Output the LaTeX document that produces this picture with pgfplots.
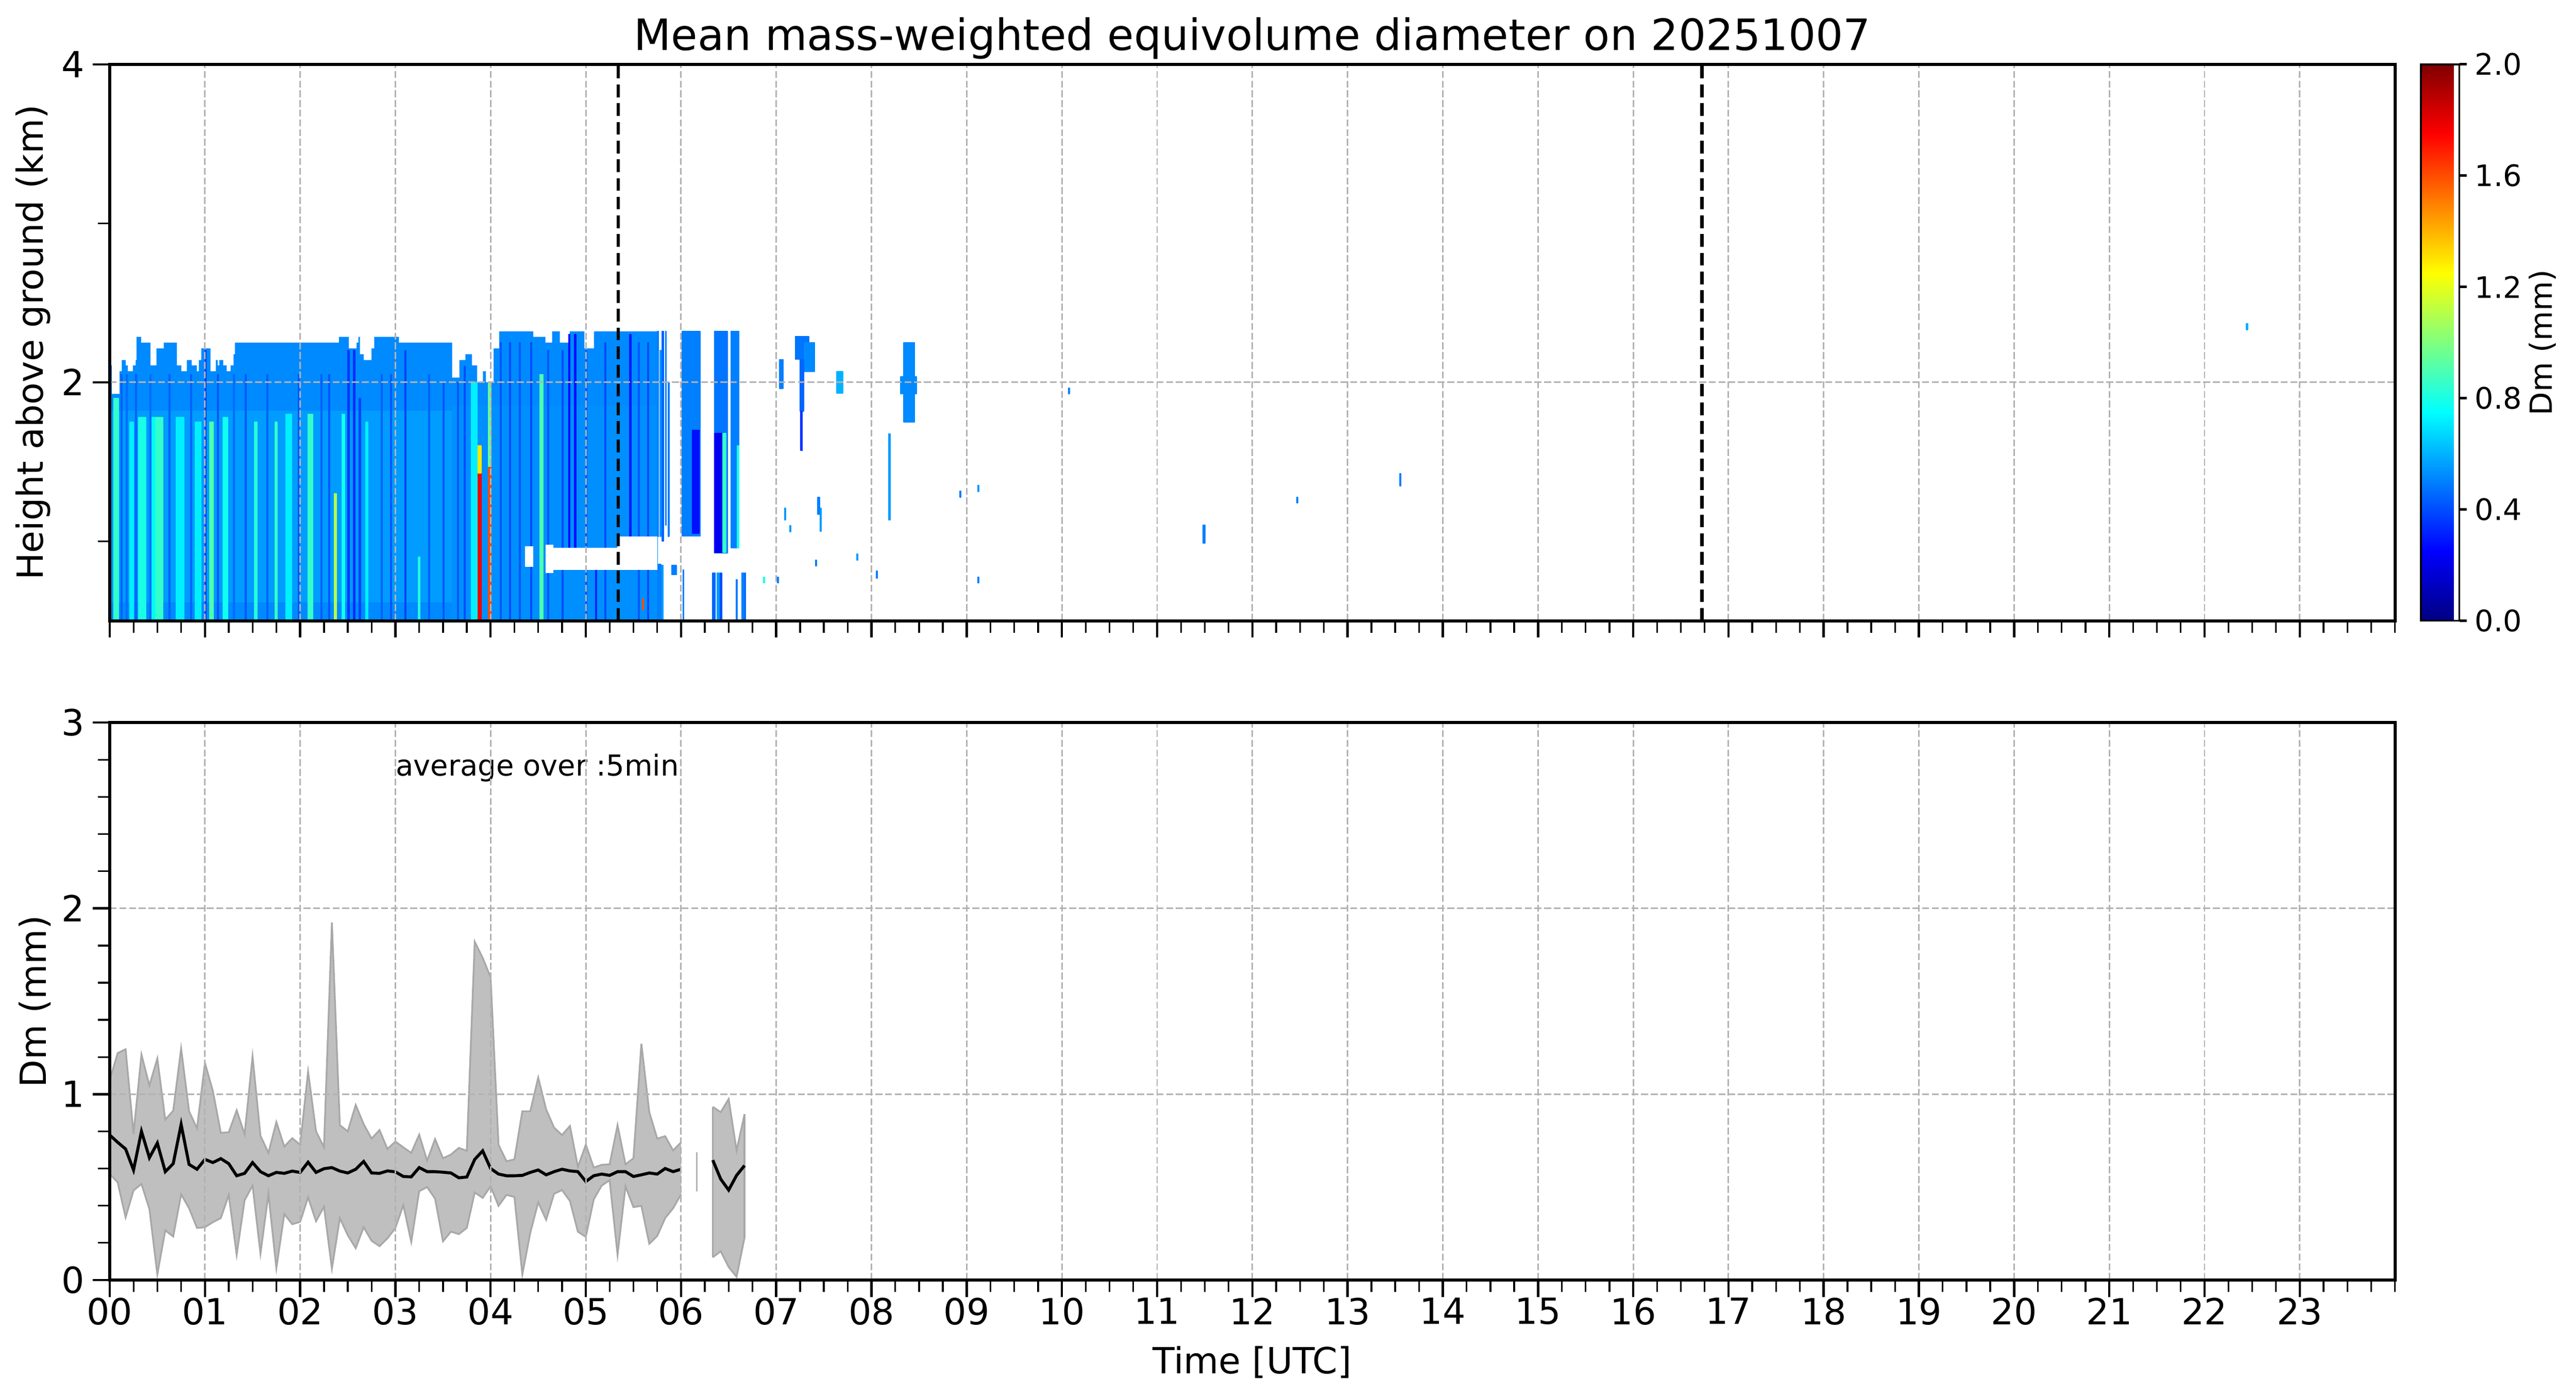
\documentclass[border=0pt]{standalone}
\usepackage{fontspec}
\setmainfont{DejaVu Sans}
\usepackage{pgfplots}
\pgfplotsset{compat=1.18}
\usepackage{pgfplotstable}

\definecolor{basecol}{rgb}{0,0.54,1}

% 5-min statistics: time (h), lower bound, mean, upper bound
\pgfplotstableread{
t lo mean hi
0.0000 0.570 0.780 1.076
0.0833 0.526 0.741 1.221
0.1667 0.337 0.705 1.242
0.2500 0.482 0.592 0.787
0.3333 0.517 0.800 1.213
0.4167 0.382 0.658 1.047
0.5000 0.030 0.737 1.192
0.5833 0.267 0.583 0.863
0.6667 0.234 0.626 0.911
0.7500 0.461 0.837 1.245
0.8333 0.386 0.622 0.908
0.9167 0.280 0.596 0.816
1.0000 0.284 0.649 1.168
1.0833 0.311 0.632 1.017
1.1667 0.333 0.653 0.792
1.2500 0.458 0.626 0.795
1.3333 0.136 0.561 0.913
1.4167 0.429 0.574 0.784
1.5000 0.508 0.632 1.203
1.5833 0.142 0.583 0.776
1.6667 0.464 0.561 0.684
1.7500 0.063 0.579 0.850
1.8333 0.355 0.574 0.718
1.9167 0.300 0.586 0.763
2.0000 0.313 0.579 0.728
2.0833 0.445 0.634 1.121
2.1667 0.316 0.579 0.800
2.2500 0.395 0.599 0.714
2.3333 0.061 0.605 1.924
2.4167 0.333 0.586 0.833
2.5000 0.241 0.576 0.800
2.5833 0.171 0.596 0.942
2.6667 0.284 0.638 0.839
2.7500 0.211 0.576 0.761
2.8333 0.182 0.574 0.807
2.9167 0.224 0.587 0.705
3.0000 0.280 0.582 0.745
3.0833 0.403 0.557 0.714
3.1667 0.205 0.555 0.684
3.2500 0.478 0.605 0.782
3.3333 0.500 0.583 0.642
3.4167 0.438 0.583 0.758
3.5000 0.208 0.580 0.655
3.5833 0.260 0.576 0.675
3.6667 0.247 0.550 0.711
3.7500 0.280 0.554 0.695
3.8333 0.471 0.649 1.820
3.9167 0.442 0.695 1.734
4.0000 0.504 0.600 1.629
4.0833 0.399 0.570 0.728
4.1667 0.458 0.561 0.639
4.2500 0.447 0.561 0.649
4.3333 0.030 0.563 0.908
4.4167 0.254 0.579 0.908
4.5000 0.418 0.592 1.089
4.5833 0.324 0.566 0.918
4.6667 0.464 0.583 0.820
4.7500 0.484 0.596 0.780
4.8333 0.425 0.587 0.829
4.9167 0.260 0.583 0.609
5.0000 0.232 0.530 0.728
5.0833 0.434 0.561 0.605
5.1667 0.508 0.570 0.620
5.2500 0.537 0.563 0.622
5.3333 0.136 0.583 0.833
5.4167 0.504 0.583 0.622
5.5000 0.392 0.557 0.655
5.5833 0.399 0.566 1.271
5.6667 0.195 0.576 0.903
5.7500 0.237 0.570 0.761
5.8333 0.333 0.600 0.774
5.9167 0.386 0.583 0.697
6.0000 0.461 0.596 0.741
}\segA
\pgfplotstableread{
t lo mean hi
6.3333 0.122 0.645 0.932
6.4167 0.155 0.543 0.903
6.5000 0.070 0.484 0.974
6.5833 0.017 0.563 0.697
6.6667 0.228 0.616 0.892
}\segB
% outline of the min-max band: upper bound forward, lower bound backward
\pgfplotstableread{
t y
0.0000 1.076
0.0833 1.221
0.1667 1.242
0.2500 0.787
0.3333 1.213
0.4167 1.047
0.5000 1.192
0.5833 0.863
0.6667 0.911
0.7500 1.245
0.8333 0.908
0.9167 0.816
1.0000 1.168
1.0833 1.017
1.1667 0.792
1.2500 0.795
1.3333 0.913
1.4167 0.784
1.5000 1.203
1.5833 0.776
1.6667 0.684
1.7500 0.850
1.8333 0.718
1.9167 0.763
2.0000 0.728
2.0833 1.121
2.1667 0.800
2.2500 0.714
2.3333 1.924
2.4167 0.833
2.5000 0.800
2.5833 0.942
2.6667 0.839
2.7500 0.761
2.8333 0.807
2.9167 0.705
3.0000 0.745
3.0833 0.714
3.1667 0.684
3.2500 0.782
3.3333 0.642
3.4167 0.758
3.5000 0.655
3.5833 0.675
3.6667 0.711
3.7500 0.695
3.8333 1.820
3.9167 1.734
4.0000 1.629
4.0833 0.728
4.1667 0.639
4.2500 0.649
4.3333 0.908
4.4167 0.908
4.5000 1.089
4.5833 0.918
4.6667 0.820
4.7500 0.780
4.8333 0.829
4.9167 0.609
5.0000 0.728
5.0833 0.605
5.1667 0.620
5.2500 0.622
5.3333 0.833
5.4167 0.622
5.5000 0.655
5.5833 1.271
5.6667 0.903
5.7500 0.761
5.8333 0.774
5.9167 0.697
6.0000 0.741
6.0000 0.461
5.9167 0.386
5.8333 0.333
5.7500 0.237
5.6667 0.195
5.5833 0.399
5.5000 0.392
5.4167 0.504
5.3333 0.136
5.2500 0.537
5.1667 0.508
5.0833 0.434
5.0000 0.232
4.9167 0.260
4.8333 0.425
4.7500 0.484
4.6667 0.464
4.5833 0.324
4.5000 0.418
4.4167 0.254
4.3333 0.030
4.2500 0.447
4.1667 0.458
4.0833 0.399
4.0000 0.504
3.9167 0.442
3.8333 0.471
3.7500 0.280
3.6667 0.247
3.5833 0.260
3.5000 0.208
3.4167 0.438
3.3333 0.500
3.2500 0.478
3.1667 0.205
3.0833 0.403
3.0000 0.280
2.9167 0.224
2.8333 0.182
2.7500 0.211
2.6667 0.284
2.5833 0.171
2.5000 0.241
2.4167 0.333
2.3333 0.061
2.2500 0.395
2.1667 0.316
2.0833 0.445
2.0000 0.313
1.9167 0.300
1.8333 0.355
1.7500 0.063
1.6667 0.464
1.5833 0.142
1.5000 0.508
1.4167 0.429
1.3333 0.136
1.2500 0.458
1.1667 0.333
1.0833 0.311
1.0000 0.284
0.9167 0.280
0.8333 0.386
0.7500 0.461
0.6667 0.234
0.5833 0.267
0.5000 0.030
0.4167 0.382
0.3333 0.517
0.2500 0.482
0.1667 0.337
0.0833 0.526
0.0000 0.570
}\bandA
\pgfplotstableread{
t y
6.3333 0.932
6.4167 0.903
6.5000 0.974
6.5833 0.697
6.6667 0.892
6.6667 0.228
6.5833 0.017
6.5000 0.070
6.4167 0.155
6.3333 0.122
}\bandB

% Dm cells of the height-time section: four corners per cell, x (h), y (km), Dm (mm)
\pgfplotstableread[row sep=\\]{
x y c\\
0 0.62 0.555\\ 3.6 0.62 0.555\\ 3.6 1.82 0.555\\ 0 1.82 0.555\\
3.6 0.5 0.53\\ 5.75 0.5 0.53\\ 5.75 1.85 0.53\\ 3.6 1.85 0.53\\
0.045 0.5 0.85\\ 0.09 0.5 0.85\\ 0.09 1.90 0.85\\ 0.045 1.90 0.85\\
0.21 0.5 0.72\\ 0.25 0.5 0.72\\ 0.25 1.75 0.72\\ 0.21 1.75 0.72\\
0.30 0.5 0.80\\ 0.38 0.5 0.80\\ 0.38 1.78 0.80\\ 0.30 1.78 0.80\\
0.44 0.5 0.74\\ 0.47 0.5 0.74\\ 0.47 1.78 0.74\\ 0.44 1.78 0.74\\
0.48 0.5 0.85\\ 0.56 0.5 0.85\\ 0.56 1.78 0.85\\ 0.48 1.78 0.85\\
0.70 0.5 0.72\\ 0.78 0.5 0.72\\ 0.78 1.78 0.72\\ 0.70 1.78 0.72\\
0.90 0.5 0.72\\ 0.96 0.5 0.72\\ 0.96 1.75 0.72\\ 0.90 1.75 0.72\\
1.05 0.5 0.90\\ 1.09 0.5 0.90\\ 1.09 1.75 0.90\\ 1.05 1.75 0.90\\
1.19 0.5 0.78\\ 1.24 0.5 0.78\\ 1.24 1.78 0.78\\ 1.19 1.78 0.78\\
1.52 0.5 0.82\\ 1.55 0.5 0.82\\ 1.55 1.75 0.82\\ 1.52 1.75 0.82\\
1.735 0.5 0.85\\ 1.76 0.5 0.85\\ 1.76 1.75 0.85\\ 1.735 1.75 0.85\\
1.85 0.5 0.72\\ 1.91 0.5 0.72\\ 1.91 1.80 0.72\\ 1.85 1.80 0.72\\
2.08 0.5 0.85\\ 2.13 0.5 0.85\\ 2.13 1.80 0.85\\ 2.08 1.80 0.85\\
2.36 0.5 1.10\\ 2.38 0.5 1.10\\ 2.38 1.30 1.10\\ 2.36 1.30 1.10\\
2.44 0.5 0.78\\ 2.47 0.5 0.78\\ 2.47 1.80 0.78\\ 2.44 1.80 0.78\\
2.69 0.5 0.72\\ 2.71 0.5 0.72\\ 2.71 1.75 0.72\\ 2.69 1.75 0.72\\
3.24 0.5 0.82\\ 3.26 0.5 0.82\\ 3.26 0.90 0.82\\ 3.24 0.90 0.82\\
3.80 0.5 0.72\\ 3.86 0.5 0.72\\ 3.86 2.00 0.72\\ 3.80 2.00 0.72\\
3.869 0.5 1.78\\ 3.90 0.5 1.78\\ 3.90 1.43 1.78\\ 3.869 1.43 1.78\\
3.869 1.43 1.30\\ 3.90 1.43 1.30\\ 3.90 1.60 1.30\\ 3.869 1.60 1.30\\
3.975 0.5 1.60\\ 4.005 0.5 1.60\\ 4.005 1.47 1.60\\ 3.975 1.47 1.60\\
3.975 1.47 0.95\\ 4.005 1.47 0.95\\ 4.005 2.00 0.95\\ 3.975 2.00 0.95\\
4.52 0.5 0.90\\ 4.55 0.5 0.90\\ 4.55 2.05 0.90\\ 4.52 2.05 0.90\\
1.00 0.5 0.38\\ 1.012 0.5 0.38\\ 1.012 2.20 0.38\\ 1.00 2.20 0.38\\
2.50 0.5 0.36\\ 2.515 0.5 0.36\\ 2.515 2.20 0.36\\ 2.50 2.20 0.36\\
2.56 0.5 0.34\\ 2.575 0.5 0.34\\ 2.575 2.20 0.34\\ 2.56 2.20 0.34\\
2.62 0.5 0.38\\ 2.635 0.5 0.38\\ 2.635 1.90 0.38\\ 2.62 1.90 0.38\\
3.10 0.5 0.38\\ 3.11 0.5 0.38\\ 3.11 2.20 0.38\\ 3.10 2.20 0.38\\
0.12 0.5 0.44\\ 0.132 0.5 0.44\\ 0.132 2.05 0.44\\ 0.12 2.05 0.44\\
0.17 0.5 0.46\\ 0.182 0.5 0.46\\ 0.182 2.05 0.46\\ 0.17 2.05 0.46\\
0.27 0.5 0.44\\ 0.282 0.5 0.44\\ 0.282 2.05 0.44\\ 0.27 2.05 0.44\\
0.42 0.5 0.46\\ 0.432 0.5 0.46\\ 0.432 2.05 0.46\\ 0.42 2.05 0.46\\
0.62 0.5 0.44\\ 0.632 0.5 0.44\\ 0.632 2.05 0.44\\ 0.62 2.05 0.44\\
0.85 0.5 0.44\\ 0.862 0.5 0.44\\ 0.862 2.05 0.44\\ 0.85 2.05 0.44\\
1.13 0.5 0.42\\ 1.142 0.5 0.42\\ 1.142 2.05 0.42\\ 1.13 2.05 0.42\\
1.30 0.5 0.46\\ 1.312 0.5 0.46\\ 1.312 2.05 0.46\\ 1.30 2.05 0.46\\
1.42 0.5 0.42\\ 1.432 0.5 0.42\\ 1.432 2.05 0.42\\ 1.42 2.05 0.42\\
1.65 0.5 0.44\\ 1.662 0.5 0.44\\ 1.662 2.05 0.44\\ 1.65 2.05 0.44\\
1.98 0.5 0.42\\ 1.992 0.5 0.42\\ 1.992 2.05 0.42\\ 1.98 2.05 0.42\\
2.22 0.5 0.44\\ 2.232 0.5 0.44\\ 2.232 2.05 0.44\\ 2.22 2.05 0.44\\
2.30 0.5 0.42\\ 2.312 0.5 0.42\\ 2.312 2.05 0.42\\ 2.30 2.05 0.42\\
2.85 0.5 0.44\\ 2.862 0.5 0.44\\ 2.862 2.05 0.44\\ 2.85 2.05 0.44\\
2.95 0.5 0.42\\ 2.962 0.5 0.42\\ 2.962 2.05 0.42\\ 2.95 2.05 0.42\\
3.35 0.5 0.44\\ 3.362 0.5 0.44\\ 3.362 2.05 0.44\\ 3.35 2.05 0.44\\
3.50 0.5 0.42\\ 3.512 0.5 0.42\\ 3.512 2.0 0.42\\ 3.50 2.0 0.42\\
3.65 0.5 0.42\\ 3.662 0.5 0.42\\ 3.662 2.0 0.42\\ 3.65 2.0 0.42\\
3.72 0.5 0.40\\ 3.732 0.5 0.40\\ 3.732 2.1 0.40\\ 3.72 2.1 0.40\\
4.10 0.5 0.42\\ 4.112 0.5 0.42\\ 4.112 2.25 0.42\\ 4.10 2.25 0.42\\
4.20 0.5 0.40\\ 4.212 0.5 0.40\\ 4.212 2.25 0.40\\ 4.20 2.25 0.40\\
4.30 0.5 0.42\\ 4.312 0.5 0.42\\ 4.312 2.25 0.42\\ 4.30 2.25 0.42\\
4.42 0.5 0.40\\ 4.432 0.5 0.40\\ 4.432 2.25 0.40\\ 4.42 2.25 0.40\\
4.60 0.5 0.42\\ 4.612 0.5 0.42\\ 4.612 2.2 0.42\\ 4.60 2.2 0.42\\
4.75 0.5 0.40\\ 4.762 0.5 0.40\\ 4.762 2.2 0.40\\ 4.75 2.2 0.40\\
5.00 0.5 0.42\\ 5.012 0.5 0.42\\ 5.012 2.2 0.42\\ 5.00 2.2 0.42\\
5.20 0.5 0.40\\ 5.212 0.5 0.40\\ 5.212 2.25 0.40\\ 5.20 2.25 0.40\\
5.55 0.5 0.42\\ 5.562 0.5 0.42\\ 5.562 2.25 0.42\\ 5.55 2.25 0.42\\
5.65 0.5 0.40\\ 5.662 0.5 0.40\\ 5.662 2.25 0.40\\ 5.65 2.25 0.40\\
4.82 0.96 0.26\\ 4.835 0.96 0.26\\ 4.835 2.30 0.26\\ 4.82 2.30 0.26\\
4.88 0.96 0.28\\ 4.895 0.96 0.28\\ 4.895 2.30 0.28\\ 4.88 2.30 0.28\\
5.46 1.03 0.30\\ 5.475 1.03 0.30\\ 5.475 2.30 0.30\\ 5.46 2.30 0.30\\
5.10 0.5 0.32\\ 5.115 0.5 0.32\\ 5.115 0.82 0.32\\ 5.10 0.82 0.32\\
6.013 1.032 0.50\\ 6.20 1.032 0.50\\ 6.20 2.32 0.50\\ 6.013 2.32 0.50\\
6.12 1.05 0.28\\ 6.19 1.05 0.28\\ 6.19 1.70 0.28\\ 6.12 1.70 0.28\\
6.349 0.925 0.48\\ 6.488 0.925 0.48\\ 6.488 2.32 0.48\\ 6.349 2.32 0.48\\
6.35 0.93 0.22\\ 6.44 0.93 0.22\\ 6.44 1.68 0.22\\ 6.35 1.68 0.22\\
6.44 0.93 0.85\\ 6.47 0.93 0.85\\ 6.47 1.68 0.85\\ 6.44 1.68 0.85\\
6.523 0.96 0.50\\ 6.609 0.96 0.50\\ 6.609 2.32 0.50\\ 6.523 2.32 0.50\\
6.59 0.96 0.80\\ 6.605 0.96 0.80\\ 6.605 1.60 0.80\\ 6.59 1.60 0.80\\
5.75 1.03 0.50\\ 5.765 1.03 0.50\\ 5.765 2.32 0.50\\ 5.75 2.32 0.50\\
5.78 1.03 0.55\\ 5.79 1.03 0.55\\ 5.79 2.20 0.55\\ 5.78 2.20 0.55\\
5.80 1.00 0.45\\ 5.815 1.00 0.45\\ 5.815 2.32 0.45\\ 5.80 2.32 0.45\\
5.835 1.10 0.50\\ 5.845 1.10 0.50\\ 5.845 2.32 0.50\\ 5.835 2.32 0.50\\
5.865 1.03 0.50\\ 5.875 1.03 0.50\\ 5.875 2.00 0.50\\ 5.865 2.00 0.50\\
5.75 0.5 0.50\\ 5.79 0.5 0.50\\ 5.79 0.855 0.50\\ 5.75 0.855 0.50\\
5.80 0.5 0.55\\ 5.81 0.5 0.55\\ 5.81 0.85 0.55\\ 5.80 0.85 0.55\\
5.90 0.79 0.50\\ 5.95 0.79 0.50\\ 5.95 0.85 0.50\\ 5.90 0.85 0.50\\
6.02 0.5 0.50\\ 6.03 0.5 0.50\\ 6.03 0.82 0.50\\ 6.02 0.82 0.50\\
6.33 0.5 0.45\\ 6.36 0.5 0.45\\ 6.36 0.80 0.45\\ 6.33 0.80 0.45\\
6.38 0.5 0.55\\ 6.40 0.5 0.55\\ 6.40 0.80 0.55\\ 6.38 0.80 0.55\\
6.41 0.5 0.40\\ 6.43 0.5 0.40\\ 6.43 0.80 0.40\\ 6.41 0.80 0.40\\
6.58 0.5 0.50\\ 6.59 0.5 0.50\\ 6.59 0.76 0.50\\ 6.58 0.76 0.50\\
6.64 0.5 0.50\\ 6.66 0.5 0.50\\ 6.66 0.80 0.50\\ 6.64 0.80 0.50\\
6.67 0.5 0.45\\ 6.68 0.5 0.45\\ 6.68 0.80 0.45\\ 6.67 0.80 0.45\\
5.595 0.57 1.60\\ 5.605 0.57 1.60\\ 5.605 0.64 1.60\\ 5.595 0.64 1.60\\
}\rects

\pgfplotstableread[row sep=\\]{
x y c\\
6.867 0.737 0.80\\ 6.88 0.737 0.80\\ 6.88 0.775 0.80\\ 6.867 0.775 0.80\\
7.01 0.737 0.50\\ 7.025 0.737 0.50\\ 7.025 0.775 0.50\\ 7.01 0.775 0.50\\
7.036 1.962 0.50\\ 7.071 1.962 0.50\\ 7.071 2.144 0.50\\ 7.036 2.144 0.50\\
7.199 2.144 0.48\\ 7.342 2.144 0.48\\ 7.342 2.289 0.48\\ 7.199 2.289 0.48\\
7.291 2.069 0.52\\ 7.403 2.069 0.52\\ 7.403 2.251 0.52\\ 7.291 2.251 0.52\\
7.25 1.818 0.45\\ 7.29 1.818 0.45\\ 7.29 2.144 0.45\\ 7.25 2.144 0.45\\
7.255 1.573 0.35\\ 7.275 1.573 0.35\\ 7.275 1.818 0.35\\ 7.255 1.818 0.35\\
7.633 1.931 0.60\\ 7.699 1.931 0.60\\ 7.699 2.069 0.60\\ 7.633 2.069 0.60\\
8.179 1.133 0.55\\ 8.199 1.133 0.55\\ 8.199 1.676 0.55\\ 8.179 1.676 0.55\\
8.337 1.749 0.52\\ 8.454 1.749 0.52\\ 8.454 2.251 0.52\\ 8.337 2.251 0.52\\
8.306 1.927 0.52\\ 8.474 1.927 0.52\\ 8.474 2.035 0.52\\ 8.306 2.035 0.52\\
7.087 1.133 0.55\\ 7.10 1.133 0.55\\ 7.10 1.209 0.55\\ 7.087 1.209 0.55\\
7.434 1.171 0.50\\ 7.454 1.171 0.50\\ 7.454 1.278 0.50\\ 7.434 1.278 0.50\\
7.459 1.064 0.55\\ 7.474 1.064 0.55\\ 7.474 1.209 0.55\\ 7.459 1.209 0.55\\
7.143 1.06 0.55\\ 7.155 1.06 0.55\\ 7.155 1.098 0.55\\ 7.143 1.098 0.55\\
7.413 0.844 0.50\\ 7.425 0.844 0.50\\ 7.425 0.882 0.50\\ 7.413 0.882 0.50\\
7.847 0.882 0.55\\ 7.857 0.882 0.55\\ 7.857 0.92 0.55\\ 7.847 0.92 0.55\\
8.051 0.769 0.50\\ 8.061 0.769 0.50\\ 8.061 0.813 0.50\\ 8.051 0.813 0.50\\
9.117 0.737 0.50\\ 9.127 0.737 0.50\\ 9.127 0.775 0.50\\ 9.117 0.775 0.50\\
8.929 1.278 0.50\\ 8.939 1.278 0.50\\ 8.939 1.315 0.50\\ 8.929 1.315 0.50\\
9.117 1.312 0.55\\ 9.127 1.312 0.55\\ 9.127 1.353 0.55\\ 9.117 1.353 0.55\\
10.07 1.927 0.50\\ 10.08 1.927 0.50\\ 10.08 1.965 0.50\\ 10.07 1.965 0.50\\
11.48 0.989 0.50\\ 11.505 0.989 0.50\\ 11.505 1.102 0.50\\ 11.48 1.102 0.50\\
12.467 1.24 0.50\\ 12.477 1.24 0.50\\ 12.477 1.278 0.50\\ 12.467 1.278 0.50\\
13.549 1.349 0.50\\ 13.558 1.349 0.50\\ 13.558 1.425 0.50\\ 13.549 1.425 0.50\\
22.44 2.33 0.60\\ 22.455 2.33 0.60\\ 22.455 2.37 0.60\\ 22.44 2.37 0.60\\
}\sparse

\pgfplotsset{
  panel/.style={
    scale only axis, anchor=south west,
    width=990.3pt,
    xmin=0, xmax=24,
    xtick={0,1,...,23}, minor xtick={0,0.25,...,24},
    tick align=outside, tick pos=left,
    major tick length=7.3pt, minor tick length=5.2pt,
    every major tick/.append style={line width=1pt, black},
    every minor tick/.append style={line width=0.75pt, black},
    axis line style={line width=1.35pt},
    grid=major,
    major grid style={draw=black!30, line width=0.65pt, dash pattern=on 3pt off 1.2pt},
    axis on top,
    font=\fontsize{15.6}{18}\selectfont,
    tick label style={font=\fontsize{15.6}{18}\selectfont},
    xticklabel style={yshift=3pt},
    /pgf/number format/assume math mode=true,
  },
}

\begin{document}
\begin{tikzpicture}
\useasboundingbox (0,0) rectangle (1116.3pt,604.65pt);

% ---------------- top panel ----------------
\begin{axis}[panel,
  at={(47.55pt,335.7pt)}, height=241.05pt,
  ymin=0.5, ymax=4,
  ytick={2,4}, minor ytick={1,3},
  xticklabels={},
  colormap/jet,
  point meta min=0, point meta max=2,
  title={Mean mass-weighted equivolume diameter on 20251007},
  title style={font=\fontsize{18.7}{22}\selectfont, at={(0.5,1.0255)}, anchor=base, yshift=-6pt},
  ylabel={Height above ground (km)},
  ylabel style={at={(-0.03348,0.5)}, anchor=center},
  colorbar,
  colorbar style={
    at={(parent axis.north east)}, anchor=north west, xshift=2.71pt,
    scale only axis, width=16.65pt, height=241.05pt,
    ytick={0,0.4,0.8,1.2,1.6,2.0},
    ytick pos=right, yticklabel pos=right,
    tick align=outside,
    major tick length=3.2pt,
    every major tick/.append style={line width=1.1pt, black},
    axis line style={line width=0.8pt},
    /pgf/number format/assume math mode=true,
    yticklabel style={font=\fontsize{12.8}{15}\selectfont,
      /pgf/number format/fixed, /pgf/number format/fixed zerofill,
      /pgf/number format/precision=1},
    ylabel={Dm (mm)},
    every axis y label/.style={at={(3.16,0.5)}, rotate=90, anchor=center,
      font=\fontsize{13.2}{15}\selectfont},
  },
]
% main echo body (upper envelope of the section)
\addplot[const plot, fill=basecol, draw=none] coordinates {
(0,2.106) (0.023,1.927) (0.104,2.07) (0.127,2.14) (0.167,2.106) (0.19,2.07)
(0.243,2.106) (0.273,2.14) (0.282,2.286) (0.329,2.25) (0.428,2.106) (0.491,2.213)
(0.567,2.25) (0.706,2.106) (0.752,2.07) (0.81,2.14) (0.861,2.106) (0.914,2.07)
(0.9375,2.14) (0.961,2.213) (1.058,2.07) (1.116,2.14) (1.134,2.106) (1.15,2.14)
(1.192,2.106) (1.227,2.07) (1.269,2.106) (1.301,2.177) (1.315,2.25) (2.407,2.286)
(2.512,2.213) (2.593,2.25) (2.611,2.286) (2.627,2.177) (2.667,2.14) (2.75,2.213)
(2.778,2.286) (3.037,2.25) (3.596,2.03) (3.672,2.14) (3.735,2.177) (3.804,2.106)
(3.858,2.0) (3.92,2.07) (3.95,2.0) (4.032,2.213) (4.09,2.32) (4.449,2.286)
(4.576,2.25) (4.646,2.32) (4.727,2.25) (4.831,2.32) (4.986,2.213) (5.086,2.32)
(5.75,2.32) (5.75,0.3) (0,0.3)} -- cycle;
\addplot[patch, patch type=rectangle, shader=flat, point meta=\thisrow{c}]
  table[x=x, y=y] {\rects};
% gaps without echo
\addplot[fill=white, draw=none] coordinates {(4.36,0.84) (4.45,0.84) (4.45,0.97) (4.36,0.97)} -- cycle;
\addplot[fill=white, draw=none] coordinates {(4.58,0.80) (4.66,0.80) (4.66,0.98) (4.58,0.98)} -- cycle;
\addplot[fill=white, draw=none] coordinates {(4.66,0.82) (5.33,0.82) (5.33,0.96) (4.66,0.96)} -- cycle;
\addplot[fill=white, draw=none] coordinates {(5.33,0.82) (5.75,0.82) (5.75,1.032) (5.33,1.032)} -- cycle;
\addplot[patch, patch type=rectangle, shader=flat, point meta=\thisrow{c}]
  table[x=x, y=y] {\sparse};
% sunrise / sunset
\addplot[black, line width=1.5pt, dash pattern=on 5.5pt off 2.6pt] coordinates {(5.34,0.5) (5.34,4)};
\addplot[black, line width=1.5pt, dash pattern=on 5.5pt off 2.6pt] coordinates {(16.72,0.5) (16.72,4)};
\end{axis}

% ---------------- bottom panel ----------------
\begin{axis}[panel,
  at={(47.55pt,50.1pt)}, height=241.5pt,
  ymin=0, ymax=3,
  ytick={0,1,2,3}, minor y tick num=4,
  xticklabels={00,01,02,03,04,05,06,07,08,09,10,11,12,13,14,15,16,17,18,19,20,21,22,23},
  xlabel={Time [UTC]},
  xlabel style={at={(0.5,-0.1478)}, anchor=center},
  ylabel={Dm (mm)},
  ylabel style={at={(-0.03287,0.5)}, anchor=center},
]
\addplot[fill=black!25, draw=none] table[x=t, y=y] {\bandA} -- cycle;
\addplot[fill=black!25, draw=none] table[x=t, y=y] {\bandB} -- cycle;
\addplot[draw=black!34, line width=0.75pt] table[x=t, y=hi] {\segA};
\addplot[draw=black!34, line width=0.75pt] table[x=t, y=lo] {\segA};
\addplot[draw=black!34, line width=0.75pt] table[x=t, y=hi] {\segB};
\addplot[draw=black!34, line width=0.75pt] table[x=t, y=lo] {\segB};
\addplot[draw=black!34, line width=0.75pt] coordinates {(6.3333,0.122) (6.3333,0.932)};
\addplot[draw=black!34, line width=0.75pt] coordinates {(6.6667,0.228) (6.6667,0.892)};
\addplot[draw=black!30, line width=0.75pt] coordinates {(6.1667,0.478) (6.1667,0.688)};
\addplot[black, line width=1.3pt] table[x=t, y=mean] {\segA};
\addplot[black, line width=1.3pt] table[x=t, y=mean] {\segB};
\node[anchor=base west, inner sep=0pt, font=\fontsize{12.5}{14}\selectfont]
  at (axis cs:3.0,2.713) {average over :5min};
\end{axis}
\end{tikzpicture}
\end{document}
